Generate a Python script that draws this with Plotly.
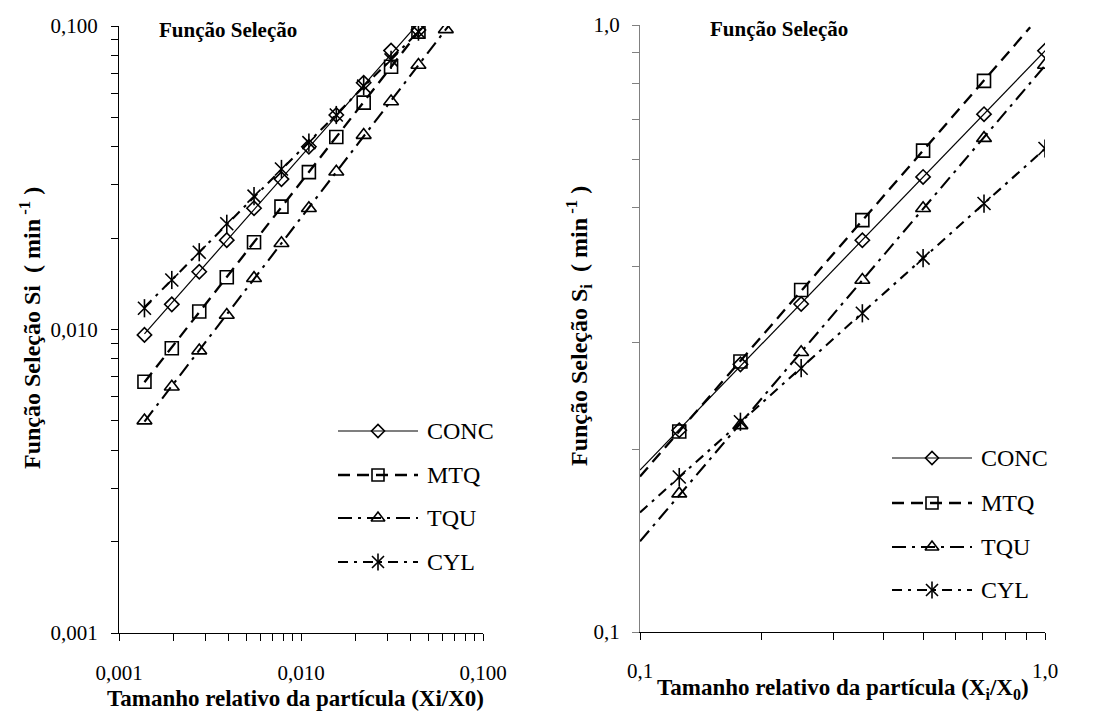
import numpy as np
import plotly.graph_objects as go

# ---- data: left panel (fine particles) ----
x_left = [0.00138, 0.00195, 0.00276, 0.00391, 0.00552, 0.00781,
          0.01105, 0.01563, 0.02210, 0.03125, 0.04419, 0.0625]
conc_left = [0.0096, 0.0121, 0.0155, 0.0197, 0.0251, 0.0313,
             0.0400, 0.0509, 0.0650, 0.0830, 0.0970]
mtq_left = [0.00673, 0.00867, 0.01146, 0.01486, 0.01938, 0.0254,
            0.0330, 0.0431, 0.0559, 0.0734, 0.0958]
tqu_left = [0.00501, 0.00648, 0.00852, 0.01116, 0.01476, 0.01923,
            0.0251, 0.0331, 0.0437, 0.0564, 0.0744, 0.0975]
cyl_left = [0.01175, 0.01456, 0.01797, 0.0223, 0.0275, 0.0338,
            0.0413, 0.0509, 0.0634, 0.0773, 0.0958]

# ---- data: right panel (coarse particles) ----
x_right = [0.125, 0.177, 0.25, 0.354, 0.5, 0.707, 1.0]
conc_right = [0.215, 0.276, 0.347, 0.442, 0.562, 0.713, 0.907]
mtq_right = [0.214, 0.279, 0.366, 0.477, 0.621, 0.809]
tqu_right = [0.169, 0.219, 0.289, 0.380, 0.499, 0.651, 0.859]
cyl_right = [0.180, 0.222, 0.272, 0.335, 0.413, 0.508, 0.626]

names = ["CONC", "MTQ", "TQU", "CYL"]
left_series = [conc_left, mtq_left, tqu_left, cyl_left]
right_series = [conc_right, mtq_right, tqu_right, cyl_right]

FONT = "Liberation Serif"
styles = {
    "CONC": dict(dash="solid", width=1.2, symbols=["diamond-open"], size=11),
    "MTQ": dict(dash="12px,7px", width=2.3, symbols=["square-open"], size=13),
    "TQU": dict(dash="14px,6px,3px,6px", width=2.1, symbols=["triangle-up-open"], size=13),
    "CYL": dict(dash="10px,6px,3px,6px", width=2.1,
                symbols=["x-thin-open", "line-ns-open"], size=13),
}

fig = go.Figure()


def power_fit(xs, ys):
    """Least-squares power-law trend line y = a * x^b (fit in log-log space)."""
    b, loga = np.polyfit(np.log10(xs), np.log10(ys), 1)
    return b, loga


def add_panel(xs, series, xa, ya, x_from, x_to_factor):
    for name, ys in zip(names, series):
        st = styles[name]
        n = len(ys)
        xs_n = np.array(xs[:n])
        b, loga = power_fit(xs_n, ys)
        x0 = x_from if x_from is not None else xs_n[0]
        xl = np.logspace(np.log10(x0), np.log10(xs_n[-1] * x_to_factor), 60)
        yl = 10 ** (loga + b * np.log10(xl))
        fig.add_trace(go.Scatter(
            x=xl, y=yl, mode="lines", xaxis=xa, yaxis=ya, showlegend=False,
            line=dict(color="black", width=st["width"], dash=st["dash"]),
            hoverinfo="skip"))
        for sym in st["symbols"]:
            fig.add_trace(go.Scatter(
                x=xs_n, y=ys, mode="markers", xaxis=xa, yaxis=ya, showlegend=False,
                marker=dict(symbol=sym, size=st["size"], color="black",
                            line=dict(color="black", width=1.6)),
                name=name))


add_panel(x_left, left_series, "x", "y", None, 1.2)
add_panel(x_right, right_series, "x2", "y2", 0.1, 1.3)

# ---- hand-drawn legends on a pixel-space overlay axis ----
W, H = 1097, 711
legend_rows = {
    "left": dict(x0=338, x1=418, xt=425, ys=[431, 475, 518, 562]),
    "right": dict(x0=892, x1=972, xt=979, ys=[458, 503, 547, 590]),
}
for side, lg in legend_rows.items():
    for name, yrow in zip(names, lg["ys"]):
        st = styles[name]
        fig.add_trace(go.Scatter(
            x=[lg["x0"], lg["x1"]], y=[yrow, yrow], mode="lines", xaxis="x3", yaxis="y3",
            showlegend=False, hoverinfo="skip",
            line=dict(color="black", width=st["width"], dash=st["dash"])))
        for sym in st["symbols"]:
            fig.add_trace(go.Scatter(
                x=[(lg["x0"] + lg["x1"]) / 2], y=[yrow], mode="markers",
                xaxis="x3", yaxis="y3", showlegend=False, hoverinfo="skip",
                marker=dict(symbol=sym, size=st["size"] - 1, color="black",
                            line=dict(color="black", width=1.6))))
        fig.add_annotation(x=lg["xt"], y=yrow, xref="x3", yref="y3", text=name,
                           showarrow=False, xanchor="left", yanchor="middle",
                           font=dict(family=FONT, size=24, color="black"))


def log_ticks(lo, hi):
    vals = []
    for e in range(lo, hi):
        for m in range(1, 10):
            vals.append(m * 10.0 ** e)
    vals.append(10.0 ** hi)
    return vals


def tick_text(vals, labels):
    out = []
    for v in vals:
        key = round(np.log10(v), 6)
        out.append(labels.get(key, ""))
    return out


lt = log_ticks(-3, -1)
lt_lab = tick_text(lt, {-3.0: "0,001", -2.0: "0,010", -1.0: "0,100"})
rt = log_ticks(-1, 0)
rt_lab = tick_text(rt, {-1.0: "0,1", 0.0: "1,0"})

axis_common = dict(type="log", showgrid=False, zeroline=False, showline=True,
                   ticks="outside", ticklen=7, tickwidth=1, automargin=False,
                   tickfont=dict(family=FONT, size=21, color="black"), mirror=False)

fig.update_layout(
    width=W, height=H, margin=dict(l=0, r=0, t=0, b=0, autoexpand=False),
    paper_bgcolor="white", plot_bgcolor="rgba(0,0,0,0)", showlegend=False,
    xaxis=dict(**axis_common, domain=[119 / W, 483 / W], range=[-3, -1],
               tickvals=lt, ticktext=lt_lab, linecolor="black", tickcolor="black",
               ticklabelstandoff=14, anchor="y"),
    yaxis=dict(**axis_common, domain=[1 - 633 / H, 1 - 26 / H], range=[-3, -1],
               tickvals=lt, ticktext=lt_lab, linecolor="black", tickcolor="black",
               ticklabelstandoff=9, anchor="x"),
    xaxis2=dict(**axis_common, domain=[640 / W, 1045 / W], range=[-1, 0],
                tickvals=rt, ticktext=rt_lab, linecolor="black", tickcolor="black",
                ticklabelstandoff=13, anchor="y2"),
    yaxis2=dict(**axis_common, domain=[1 - 632 / H, 1 - 25 / H], range=[-1, 0],
                tickvals=rt, ticktext=rt_lab, linecolor="#808080", tickcolor="#808080",
                ticklabelstandoff=8, anchor="x2"),
    xaxis3=dict(domain=[0, 1], range=[0, W], visible=False, fixedrange=True,
                anchor="y3", automargin=False),
    yaxis3=dict(domain=[0, 1], range=[H, 0], visible=False, fixedrange=True,
                anchor="x3", automargin=False),
)

title_font = dict(family=FONT, size=21, color="black")
label_font = dict(family=FONT, size=23, color="black")
ytitle_font = dict(family=FONT, size=24, color="black")

annotations = [
    dict(x=228, y=30, text="<b>Função Seleção</b>", font=title_font),
    dict(x=779, y=29, text="<b>Função Seleção</b>", font=title_font),
    dict(x=295, y=698, text="<b>Tamanho relativo da partícula (Xi/X0)</b>", font=label_font),
    dict(x=843, y=689, text="<b>Tamanho relativo da partícula (X<sub>i</sub>/X<sub>0</sub>)</b>",
         font=label_font),
    dict(x=30, y=328, text="<b>Função Seleção Si  ( min<sup> -1</sup> )</b>", font=ytitle_font,
         textangle=-90),
    dict(x=579, y=326, text="<b>Função Seleção S<sub>i</sub>  ( min<sup> -1</sup> )</b>",
         font=ytitle_font, textangle=-90),
]
for a in annotations:
    fig.add_annotation(xref="x3", yref="y3", showarrow=False,
                       xanchor="center", yanchor="middle", **a)

fig.write_html("out.html")
